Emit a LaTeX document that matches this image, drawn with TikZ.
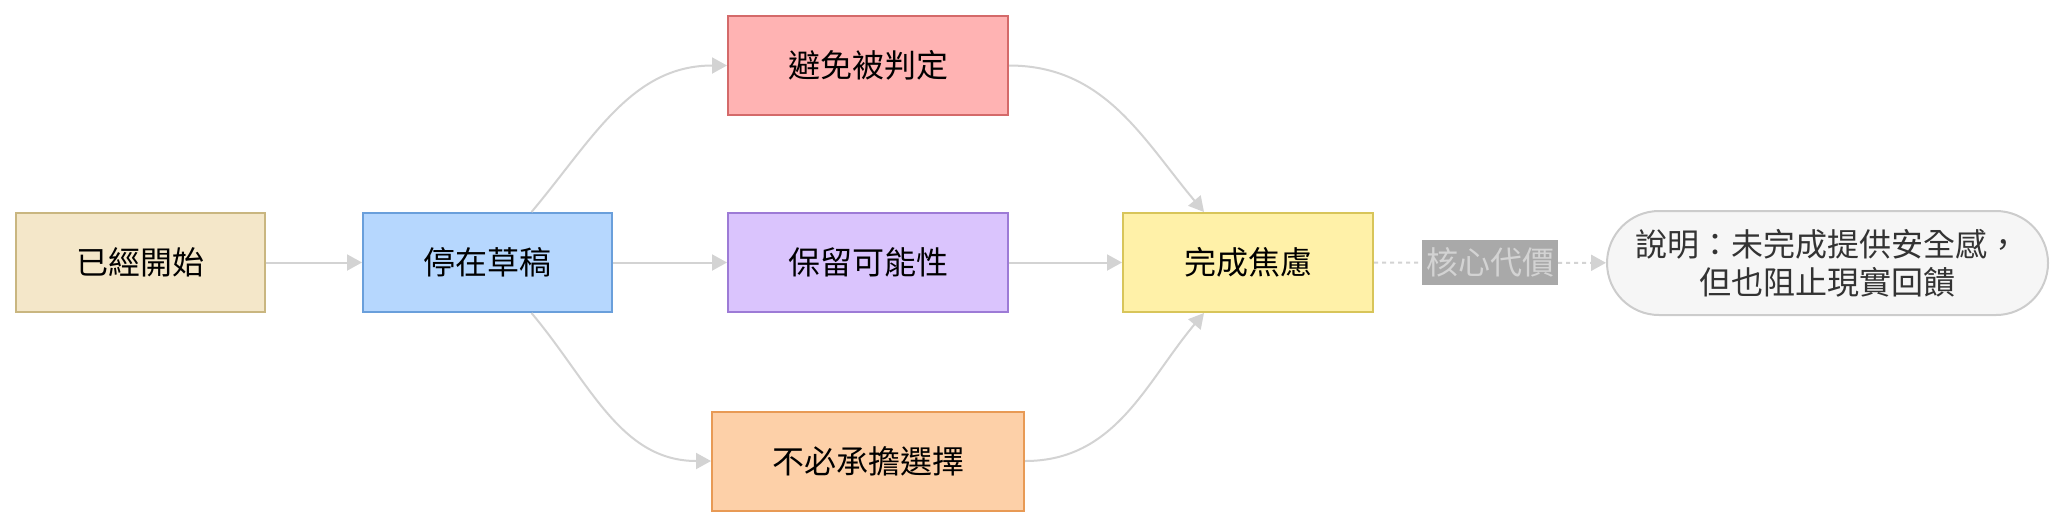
\documentclass[tikz,border=0pt]{standalone}
\usepackage{fontspec}
\usepackage{tikz}
\usetikzlibrary{arrows.meta,positioning}
\newfontfamily\cjk{Noto Sans CJK TC}
\definecolor{startfill}{HTML}{F4E7C9}
\definecolor{startline}{HTML}{C9B680}
\definecolor{draftfill}{HTML}{B6D7FE}
\definecolor{draftline}{HTML}{6A9FDB}
\definecolor{avoidfill}{HTML}{FFB3B3}
\definecolor{avoidline}{HTML}{D46A6A}
\definecolor{keepfill}{HTML}{DAC4FD}
\definecolor{keepline}{HTML}{9D7BD6}
\definecolor{choicefill}{HTML}{FDD0A8}
\definecolor{choiceline}{HTML}{E89A55}
\definecolor{anxfill}{HTML}{FFF1A8}
\definecolor{anxline}{HTML}{D8C55A}
\definecolor{notefill}{HTML}{F6F6F6}
\definecolor{noteline}{HTML}{CCCCCC}
\definecolor{edgegray}{HTML}{D3D3D3}
\definecolor{labelbg}{HTML}{A9A9A9}
\definecolor{notetext}{HTML}{333333}

\begin{document}
\begin{tikzpicture}[x=.5pt,y=-.5pt,
  box/.style={draw,line width=1pt,minimum height=49.5pt,inner sep=0pt,font=\cjk\fontsize{16}{19}\selectfont},
  link/.style={draw=edgegray,line width=1pt,-{Triangle[length=7.5pt,width=8pt]}},
  costlabel/.style={fill=labelbg,text=edgegray,inner xsep=2pt,inner ysep=0pt,minimum height=22.5pt,font=\cjk\fontsize{16}{19}\selectfont}]
\useasboundingbox (0,0) rectangle (2064,526);
\node[box,draw=startline,fill=startfill,minimum width=124.5pt] (start) at (140,262.5) {已經開始};
\node[box,draw=draftline,fill=draftfill,minimum width=124.5pt] (draft) at (487.5,262.5) {停在草稿};
\node[box,draw=avoidline,fill=avoidfill,minimum width=140pt] (avoid) at (868,65.5) {避免被判定};
\node[box,draw=keepline,fill=keepfill,minimum width=140pt] (keep) at (868,262.5) {保留可能性};
\node[box,draw=choiceline,fill=choicefill,minimum width=156pt] (nochoice) at (868,461) {不必承擔選擇};
\node[box,draw=anxline,fill=anxfill,minimum width=125pt] (anxiety) at (1248,262.5) {完成焦慮};
\node[box,draw=noteline,fill=notefill,text=notetext,rounded corners=26pt,minimum width=220.5pt,minimum height=52pt,align=center] (note) at (1827.5,263) {說明：未完成提供安全感，\\但也阻止現實回饋};
% edges
\draw[link] (start) -- (draft);
\draw[link] ([xshift=22pt]draft.north) to[out=50,in=180] (avoid.west);
\draw[link] (draft) -- (keep);
\draw[link] ([xshift=22pt]draft.south) to[out=-50,in=180] (nochoice.west);
\draw[link] (avoid.east) to[out=0,in=130] ([xshift=-22pt]anxiety.north);
\draw[link] (keep) -- (anxiety);
\draw[link] (nochoice.east) to[out=0,in=-130] ([xshift=-22pt]anxiety.south);
\draw[link,dash pattern=on 2pt off 2pt] (anxiety) -- node[costlabel] {核心代價} (note);
\end{tikzpicture}
\end{document}
